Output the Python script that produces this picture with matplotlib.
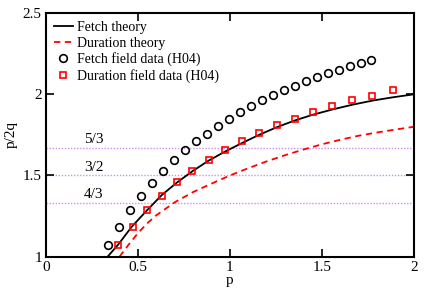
import matplotlib
matplotlib.use("Agg")
import matplotlib.pyplot as plt

plt.rcParams['font.family'] = ['Liberation Serif', 'DejaVu Serif']
plt.rcParams['font.size'] = 11

# theory curves
fetch_p = [0.335, 0.393, 0.466, 0.547, 0.629, 0.710, 0.797, 0.882, 0.973, 1.064,
           1.158, 1.254, 1.353, 1.453, 1.562, 1.670, 1.779, 1.888, 2.000]
fetch_y = [1.000, 1.075, 1.184, 1.283, 1.379, 1.455, 1.527, 1.590, 1.647, 1.699,
           1.750, 1.797, 1.839, 1.875, 1.908, 1.937, 1.962, 1.982, 2.000]

dur_p = [0.40, 0.45, 0.50, 0.55, 0.60, 0.70, 0.80, 0.90, 1.00, 1.10,
         1.20, 1.30, 1.40, 1.50, 1.60, 1.70, 1.80, 1.90, 2.00]
dur_y = [1.000, 1.075, 1.145, 1.205, 1.255, 1.335, 1.398, 1.450, 1.500, 1.545,
         1.587, 1.625, 1.660, 1.692, 1.720, 1.745, 1.765, 1.783, 1.800]

# field data (H04)
fetch_data_p = [0.335, 0.395, 0.455, 0.515, 0.575, 0.635, 0.695, 0.755, 0.815, 0.875,
                0.935, 0.995, 1.055, 1.115, 1.175, 1.235, 1.295, 1.355, 1.415, 1.475,
                1.535, 1.595, 1.655, 1.715, 1.768]
fetch_data_y = [1.070, 1.184, 1.285, 1.375, 1.455, 1.529, 1.594, 1.654, 1.713, 1.758,
                1.805, 1.851, 1.889, 1.926, 1.963, 1.994, 2.025, 2.051, 2.080, 2.104,
                2.129, 2.152, 2.172, 2.192, 2.209]

dur_data_p = [0.393, 0.473, 0.551, 0.630, 0.712, 0.795, 0.884, 0.971, 1.065, 1.158,
              1.254, 1.352, 1.453, 1.556, 1.665, 1.775, 1.889]
dur_data_y = [1.070, 1.184, 1.287, 1.375, 1.459, 1.529, 1.594, 1.656, 1.711, 1.760,
              1.808, 1.851, 1.889, 1.926, 1.963, 1.992, 2.025]

ref_levels = [5/3, 3/2, 4/3]
ref_labels = ['5/3', '3/2', '4/3']

fig = plt.figure(figsize=(4.24, 2.92), dpi=100)
ax = fig.add_axes([0.1085, 0.121, 0.8675, 0.834])

for lev, lab in zip(ref_levels, ref_labels):
    ax.axhline(lev, color='#cf8fef', linestyle=(0, (1, 1.2)), linewidth=1.0, zorder=1)
    ax.text(0.207, lev + 0.012, lab, ha='left', va='bottom', fontsize=11)

ax.plot(fetch_p, fetch_y, color='black', linewidth=1.3, label='Fetch theory')
ax.plot(dur_p, dur_y, color='#ff0000', linewidth=1.3, linestyle=(0, (3.5, 2.5)),
        label='Duration theory')
ax.plot(fetch_data_p, fetch_data_y, linestyle='none', marker='o', markersize=5.5,
        markerfacecolor='none', markeredgecolor='black', markeredgewidth=1.2,
        label='Fetch field data (H04)')
ax.plot(dur_data_p, dur_data_y, linestyle='none', marker='s', markersize=4.6,
        markerfacecolor='none', markeredgecolor='#ff0000', markeredgewidth=1.2,
        label='Duration field data (H04)')

ax.set_xlim(0, 2)
ax.set_ylim(1, 2.5)
ax.set_xticks([0, 0.5, 1, 1.5, 2])
ax.set_xticklabels(['0', '0.5', '1', '1.5', '2'])
ax.set_yticks([1, 1.5, 2, 2.5])
ax.set_yticklabels(['1', '1.5', '2', '2.5'])
ax.tick_params(direction='in', length=6, width=1.2, top=True, right=True, labelsize=11, pad=3)
for s in ax.spines.values():
    s.set_linewidth(1.5)

ax.set_xlabel('p', fontsize=11, labelpad=0)
ax.set_ylabel('p/2q', fontsize=11, labelpad=4)

ax.legend(loc='upper left', frameon=False, fontsize=10, handlelength=1.4,
          handletextpad=0.25, labelspacing=0.2, borderaxespad=0.15,
          bbox_to_anchor=(0.0, 1.0))

fig.savefig('out.png', dpi=100)
